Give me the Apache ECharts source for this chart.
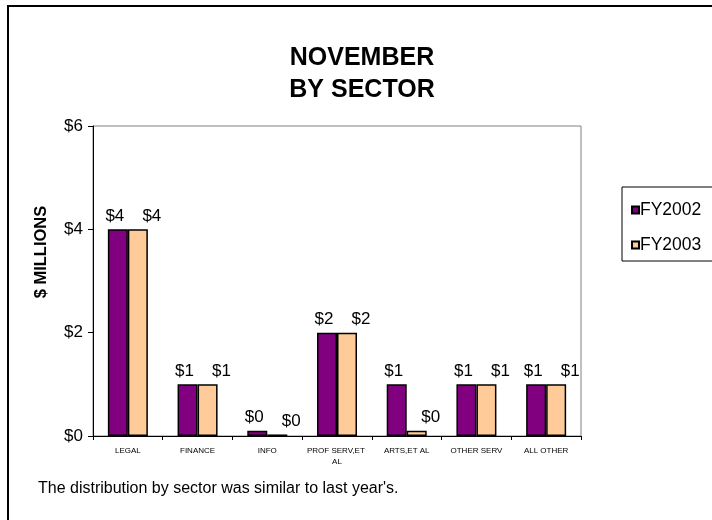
<!DOCTYPE html>
<html>
<head>
<meta charset="utf-8">
<script src="https://cdn.jsdelivr.net/npm/echarts@6/dist/echarts.min.js"></script>
<style>
html,body{margin:0;padding:0;background:#fff;}
#chart{width:712px;height:520px;}
</style>
</head>
<body>
<div id="chart"></div>
<script>
var categories = ['LEGAL', 'FINANCE', 'INFO', 'PROF SERV,ET AL', 'ARTS,ET AL', 'OTHER SERV', 'ALL OTHER'];
var fy2002 = [4, 1, 0.1, 2, 1, 1, 1];
var fy2003 = [4, 1, 0.03, 2, 0.1, 1, 1];
var yTicks = [0, 2, 4, 6];
var seriesNames = ['FY2002', 'FY2003'];

var FONT = 'Arial, "Liberation Sans", sans-serif';
var chart = echarts.init(document.getElementById('chart'));

function lbl(off) {
  return {
    show: true, position: 'top', distance: 5, offset: off,
    fontFamily: FONT, fontSize: 17, color: '#000',
    formatter: function (p) { return '$' + Math.round(p.value); }
  };
}

chart.setOption({
  backgroundColor: '#fff',
  animation: false,
  title: {
    text: 'NOVEMBER\nBY SECTOR',
    left: 357, top: 37, textAlign: 'center',
    textStyle: { fontFamily: FONT, fontSize: 25, fontWeight: 'bold', color: '#000', lineHeight: 32 }
  },
  grid: {
    left: 93, right: 131, top: 126, bottom: 84,
    show: true, borderColor: '#808080', borderWidth: 1, backgroundColor: 'transparent'
  },
  legend: {
    orient: 'vertical', left: 626, top: 196,
    itemWidth: 7, itemHeight: 7, itemGap: 17,
    icon: 'rect',
    textStyle: { fontFamily: FONT, fontSize: 17.5, color: '#000', padding: [0, 0, 0, -4] },
    data: seriesNames
  },
  xAxis: {
    type: 'category', data: categories,
    axisLine: { lineStyle: { color: '#000', width: 1 } },
    axisTick: { show: true, alignWithLabel: false, length: 4, lineStyle: { color: '#000' } },
    axisLabel: {
      interval: 0, fontFamily: FONT, fontSize: 8, color: '#000', margin: 9,
      width: 62, overflow: 'break', lineHeight: 11
    }
  },
  yAxis: {
    type: 'value', min: yTicks[0], max: yTicks[yTicks.length - 1], interval: 2,
    splitLine: { show: false },
    axisLine: { show: true, lineStyle: { color: '#000', width: 1 } },
    axisTick: { show: true, length: 5, lineStyle: { color: '#000' } },
    axisLabel: { fontFamily: FONT, fontSize: 17, color: '#000', margin: 10, formatter: function (v) { return '$' + v; } }
  },
  series: [
    {
      name: seriesNames[0], type: 'bar', data: fy2002, barWidth: 20, barGap: '0%',
      itemStyle: { color: '#800080', borderColor: '#000', borderWidth: 1.5 },
      label: lbl([-3, 0])
    },
    {
      name: seriesNames[1], type: 'bar', data: fy2003, barWidth: 20,
      itemStyle: { color: '#FFCC99', borderColor: '#000', borderWidth: 1.5 },
      label: lbl([14, 0])
    }
  ],
  graphic: [
    { type: 'rect', shape: { x: 8, y: 6, width: 720, height: 530 }, style: { fill: 'none', stroke: '#000', lineWidth: 2 }, silent: true, z: -1 },
    { type: 'rect', shape: { x: 622, y: 187, width: 100, height: 74 }, style: { fill: 'none', stroke: '#000', lineWidth: 1 }, silent: true },
    { type: 'text', x: 41, y: 252, rotation: Math.PI / 2, style: { text: '$ MILLIONS', fontFamily: FONT, fontSize: 16.5, fontWeight: 'bold', fill: '#000', align: 'center', verticalAlign: 'middle' } },
    { type: 'text', left: 38, top: 481, style: { text: "The distribution by sector was similar to last year's.", fontFamily: FONT, fontSize: 16, fill: '#000' } }
  ]
});
</script>
</body>
</html>
